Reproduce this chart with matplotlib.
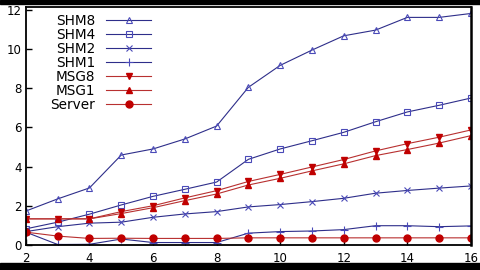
import matplotlib
matplotlib.use("Agg")
import matplotlib.pyplot as plt
from matplotlib.patches import Rectangle

x = list(range(2, 17))

shm8 = [1.73, 2.35, 2.91, 4.59, 4.9, 5.41, 6.07, 8.05, 9.17, 9.95, 10.68, 10.97, 11.62, 11.62, 11.82]
shm4 = [0.82, 1.16, 1.57, 2.04, 2.48, 2.84, 3.21, 4.37, 4.9, 5.32, 5.75, 6.29, 6.79, 7.13, 7.5]
shm2 = [0.68, 0.93, 1.11, 1.16, 1.41, 1.58, 1.7, 1.94, 2.06, 2.21, 2.38, 2.64, 2.78, 2.9, 3.01]
shm1 = [0.65, 0.02, 0.03, 0.3, 0.12, 0.12, 0.12, 0.6, 0.68, 0.71, 0.78, 0.98, 0.98, 0.93, 0.97]
msg8 = [1.33, 1.33, 1.33, 1.7, 2.0, 2.4, 2.77, 3.24, 3.6, 3.98, 4.36, 4.8, 5.17, 5.5, 5.87]
msg1 = [1.33, 1.33, 1.33, 1.6, 1.9, 2.26, 2.6, 3.06, 3.4, 3.78, 4.14, 4.56, 4.87, 5.2, 5.58]
server = [0.65, 0.45, 0.33, 0.34, 0.33, 0.33, 0.33, 0.36, 0.36, 0.36, 0.36, 0.36, 0.36, 0.36, 0.36]

xticks = [2, 4, 6, 8, 10, 12, 14, 16]
yticks = [0, 2, 4, 6, 8, 10, 12]

blue_line = "#2e2e8a"
blue_mark = "#4a4ab8"
red_line = "#b83030"
red_mark = "#c00000"

fig = plt.figure(figsize=(4.8, 2.7), dpi=100)
ax = fig.add_axes([0.054, 0.093, 0.927, 0.881])

ax.plot(x, shm8, color=blue_line, lw=0.8, marker="^", ms=5, mfc="none",
        mec=blue_mark, mew=0.8, label="SHM8")
ax.plot(x, shm4, color=blue_line, lw=0.8, marker="s", ms=5, mfc="none",
        mec=blue_mark, mew=0.8, label="SHM4")
ax.plot(x, shm2, color=blue_line, lw=0.8, marker="x", ms=5,
        mec=blue_mark, mew=0.8, label="SHM2")
ax.plot(x, shm1, color=blue_line, lw=0.8, marker="+", ms=6,
        mec=blue_mark, mew=0.8, label="SHM1")
ax.plot(x, msg8, color=red_line, lw=0.8, marker="v", ms=4.5, mfc=red_mark,
        mec=red_mark, label="MSG8")
ax.plot(x, msg1, color=red_line, lw=0.8, marker="^", ms=4.5, mfc=red_mark,
        mec=red_mark, label="MSG1")
ax.plot(x, server, color=red_line, lw=0.8, marker="o", ms=5, mfc=red_mark,
        mec=red_mark, label="Server")

ax.set_xlim(2, 16)
ax.set_ylim(0, 12.15)
ax.set_xticks(xticks)
ax.set_yticks(yticks)
ax.tick_params(direction="in", length=4, width=1, labelsize=8.5, pad=3)
ax.tick_params(axis="x", pad=5)
for s in ax.spines.values():
    s.set_linewidth(1.3)
ax.spines["right"].set_linewidth(1.8)

ax.legend(loc="upper left", bbox_to_anchor=(0.04, 1.0), frameon=False,
          markerfirst=False, fontsize=9.8, labelspacing=0.0,
          handlelength=3.3, handletextpad=0.8, borderpad=0.3,
          borderaxespad=0.2)

# black bars from the screenshot
fig.patches.append(Rectangle((0, 0), 1, 0.026, transform=fig.transFigure,
                             color="black", zorder=10))
fig.patches.append(Rectangle((0, 0.985), 1, 0.015, transform=fig.transFigure,
                             color="black", zorder=10))

fig.savefig("out.png", dpi=100)
